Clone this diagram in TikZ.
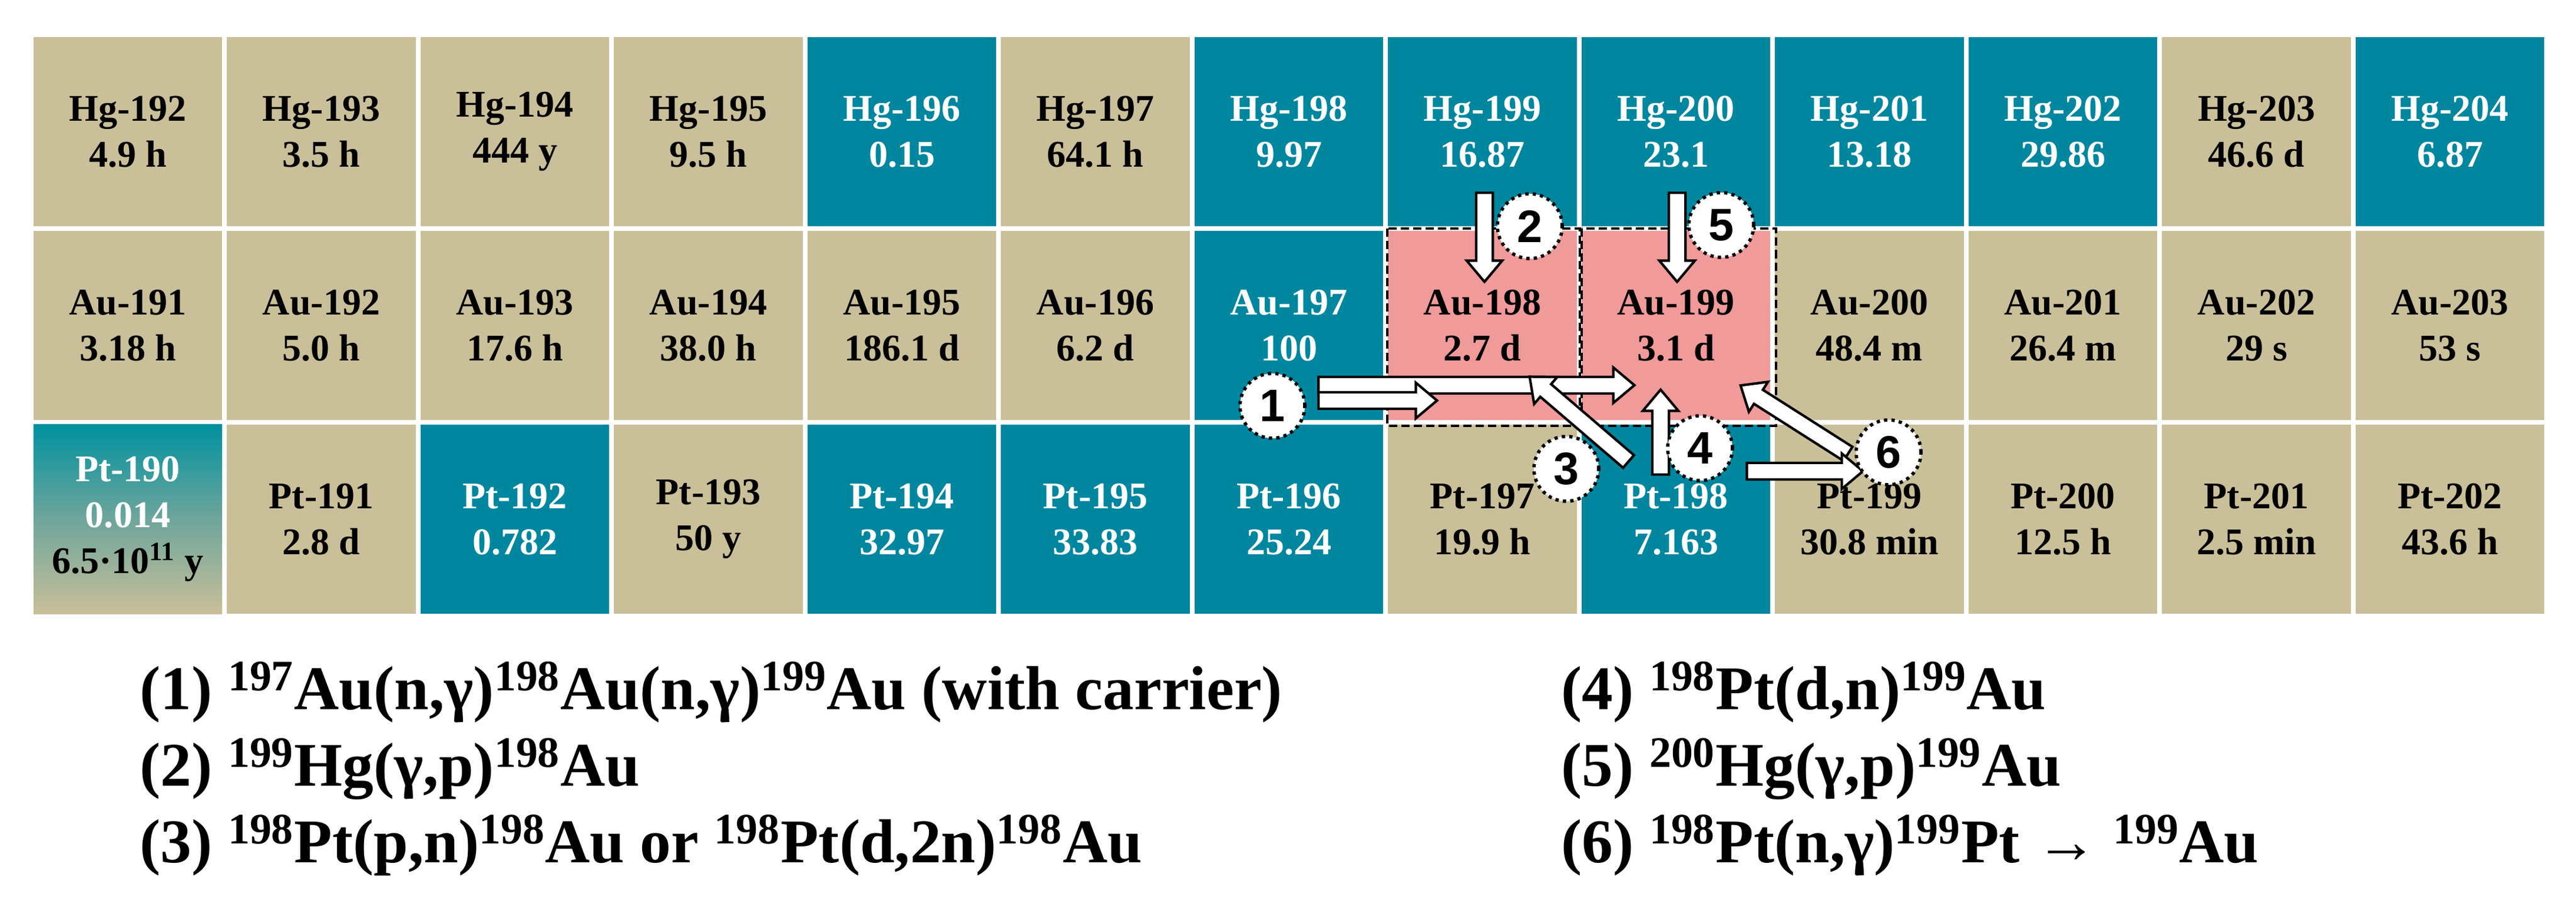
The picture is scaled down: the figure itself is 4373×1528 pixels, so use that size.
\documentclass[tikz,border=0pt]{standalone}
\usepackage{fontspec}
\setmainfont{Liberation Serif}
\newfontfamily\arialf{Liberation Sans}
\usetikzlibrary{shapes.arrows,calc}
\definecolor{tanc}{HTML}{C9BF99}
\definecolor{tealc}{HTML}{00869F}
\definecolor{pinkc}{HTML}{F09A9A}
\definecolor{tealtop}{HTML}{00919F}
\newcommand\nuc[6]{\node[cellbox,#4] (#1) at ({57+#2*328.5+160},{63+#3*329+160.5}) {#5\\#6};}
\begin{document}
\begin{tikzpicture}[x=0.01cm,y=-0.01cm,
  cellbox/.style={rectangle,minimum width=3.2cm,minimum height=3.21cm,inner sep=0pt,align=center,
     font=\fontsize{18.2pt}{22.2pt}\selectfont\bfseries},
  tn/.style={fill=tanc,text=black},
  tl/.style={fill=tealc,text=white},
  pk/.style={fill=pinkc,text=black},
  blkarr/.style={single arrow,draw=black,fill=white,line width=1.2pt,inner sep=0pt,inner ysep=0.12cm,
     single arrow head extend=0.16cm,single arrow tip angle=80,shape border uses incircle=false},
  num/.style={circle,draw=black,fill=white,dotted,line width=1.6pt,minimum size=1.1cm,inner sep=0pt,
     font=\arialf\bfseries\fontsize{22pt}{22pt}\selectfont},
  leg/.style={anchor=base west,inner sep=0pt,font=\fontsize{30pt}{36pt}\selectfont\bfseries}]
\useasboundingbox (0,0) rectangle (4373,1528);
\fill[white] (0,0) rectangle (4373,1528);
% row 0
\nuc{hg192}{0}{0}{tn}{Hg-192}{4.9 h}
\nuc{hg193}{1}{0}{tn}{Hg-193}{3.5 h}
\nuc{hg194}{2}{0}{tn}{Hg-194}{444 y}
\nuc{hg195}{3}{0}{tn}{Hg-195}{9.5 h}
\nuc{hg196}{4}{0}{tl}{Hg-196}{0.15}
\nuc{hg197}{5}{0}{tn}{Hg-197}{64.1 h}
\nuc{hg198}{6}{0}{tl}{Hg-198}{9.97}
\nuc{hg199}{7}{0}{tl}{Hg-199}{16.87}
\nuc{hg200}{8}{0}{tl}{Hg-200}{23.1}
\nuc{hg201}{9}{0}{tl}{Hg-201}{13.18}
\nuc{hg202}{10}{0}{tl}{Hg-202}{29.86}
\nuc{hg203}{11}{0}{tn}{Hg-203}{46.6 d}
\nuc{hg204}{12}{0}{tl}{Hg-204}{6.87}
% row 1
\nuc{au191}{0}{1}{tn}{Au-191}{3.18 h}
\nuc{au192}{1}{1}{tn}{Au-192}{5.0 h}
\nuc{au193}{2}{1}{tn}{Au-193}{17.6 h}
\nuc{au194}{3}{1}{tn}{Au-194}{38.0 h}
\nuc{au195}{4}{1}{tn}{Au-195}{186.1 d}
\nuc{au196}{5}{1}{tn}{Au-196}{6.2 d}
\nuc{au197}{6}{1}{tl}{Au-197}{100}
\nuc{au198}{7}{1}{pk}{Au-198}{2.7 d}
\nuc{au199}{8}{1}{pk}{Au-199}{3.1 d}
\nuc{au200}{9}{1}{tn}{Au-200}{48.4 m}
\nuc{au201}{10}{1}{tn}{Au-201}{26.4 m}
\nuc{au202}{11}{1}{tn}{Au-202}{29 s}
\nuc{au203}{12}{1}{tn}{Au-203}{53 s}
% row 2
\node[cellbox,top color=tealtop,bottom color=tanc,middle color=tealc!45!tanc] (pt190) at ({57+160},{63+2*329+160.5})
  {\textcolor{white}{Pt-190}\\\textcolor{white}{0.014}\\6.5·10\textsuperscript{11} y};
\nuc{pt191}{1}{2}{tn}{Pt-191}{2.8 d}
\nuc{pt192}{2}{2}{tl}{Pt-192}{0.782}
\nuc{pt193}{3}{2}{tn}{Pt-193}{50 y}
\nuc{pt194}{4}{2}{tl}{Pt-194}{32.97}
\nuc{pt195}{5}{2}{tl}{Pt-195}{33.83}
\nuc{pt196}{6}{2}{tl}{Pt-196}{25.24}
\nuc{pt197}{7}{2}{tn}{Pt-197}{19.9 h}
\nuc{pt198}{8}{2}{tl}{Pt-198}{7.163}
\nuc{pt199}{9}{2}{tn}{Pt-199}{30.8 min}
\nuc{pt200}{10}{2}{tn}{Pt-200}{12.5 h}
\nuc{pt201}{11}{2}{tn}{Pt-201}{2.5 min}
\nuc{pt202}{12}{2}{tn}{Pt-202}{43.6 h}
% dashed boxes
\draw[line width=1.3pt,dash pattern=on 4pt off 2pt] (2355,388) rectangle (2682,723);
\draw[line width=1.3pt,dash pattern=on 4pt off 2pt] (2685,388) rectangle (3015,723);
% arrows
\node[blkarr,minimum height=1.51cm,rotate=-90] (a2) at (2520,394.5) {};
\node[blkarr,minimum height=1.51cm,rotate=-90] (a5) at (2847,394.5) {};
\node[blkarr,minimum height=5.36cm] (a1u) at (2498,654) {};
\node[blkarr,minimum height=2.01cm] (a1l) at (2330.5,680) {};
\node[blkarr,minimum height=2.21cm,rotate=139.4] (a3) at (2687,717) {};
\node[blkarr,minimum height=1.44cm,rotate=90] (a4) at (2819,742) {};
\node[blkarr,minimum height=2.16cm,rotate=147.5] (a6d) at (3053,717) {};
\node[blkarr,minimum height=1.97cm] (a6h) at (3055.5,800) {};
% circles
\node[num] (c1) at (2160,689) {1};
\node[num] (c2) at (2597,384) {2};
\node[num] (c3) at (2659,796) {3};
\node[num] (c4) at (2886,761) {4};
\node[num] (c5) at (2922,382) {5};
\node[num] (c6) at (3206,768) {6};
% legend
\node[leg] (l1) at (237,1204) {(1) \textsuperscript{197}Au(n,γ)\textsuperscript{198}Au(n,γ)\textsuperscript{199}Au (with carrier)};
\node[leg] (l2) at (237,1334) {(2) \textsuperscript{199}Hg(γ,p)\textsuperscript{198}Au};
\node[leg] (l3) at (237,1464) {(3) \textsuperscript{198}Pt(p,n)\textsuperscript{198}Au or \textsuperscript{198}Pt(d,2n)\textsuperscript{198}Au};
\node[leg] (l4) at (2650,1204) {(4) \textsuperscript{198}Pt(d,n)\textsuperscript{199}Au};
\node[leg] (l5) at (2650,1334) {(5) \textsuperscript{200}Hg(γ,p)\textsuperscript{199}Au};
\node[leg] (l6) at (2650,1464) {(6) \textsuperscript{198}Pt(n,γ)\textsuperscript{199}Pt → \textsuperscript{199}Au};
\end{tikzpicture}
\end{document}
